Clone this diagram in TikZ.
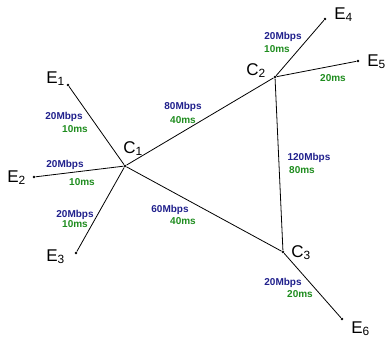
\documentclass[tikz,border=0pt]{standalone}
\usepackage{fontspec}
\setmainfont{Liberation Sans}
\definecolor{rate}{RGB}{32,32,140}
\definecolor{delay}{RGB}{30,140,30}
\tikzset{
	host/.style={font=\fontsize{17}{17}\selectfont, anchor=base west, inner sep=0pt},
	bw/.style={font=\fontsize{10}{10}\selectfont\bfseries, text=rate, anchor=base, inner sep=0pt},
	lat/.style={font=\fontsize{10}{10}\selectfont\bfseries, text=delay, anchor=base, inner sep=0pt},
	dot/.style={circle, fill, inner sep=0pt, minimum size=2.6pt}
}
\begin{document}
\begin{tikzpicture}[x=1pt,y=-1pt,line width=0.8pt]
\useasboundingbox (0,0) rectangle (385,343);

\begin{scope}
	\node[dot] (c1) at (125,166) {};
	\node[dot] (c2) at (275,77) {};
	\node[dot] (c3) at (283,252) {};
	%
	\node[dot] (e1) at (68,85) {};
	\node[dot] (e2) at (34,177) {};
	\node[dot] (e3) at (76,253) {};
	\node[dot] (e4) at (325,19) {};
	\node[dot] (e5) at (358,61) {};
	\node[dot] (e6) at (342,319) {};
\end{scope}

\draw
	(e1) -- (c1) -- (e2)
	(c1) -- (e3)
	(c1) -- (c2) -- (c3) -- (c1)
	(c2) -- (e4)
	(c2) -- (e5)
	(c3) -- (e6);

% router and host names
\node[host] (lc1) at (123,153) {C\textsubscript{1}};
\node[host] (lc2) at (246,75) {C\textsubscript{2}};
\node[host] (lc3) at (291,257) {C\textsubscript{3}};
\node[host] (le1) at (46,83) {E\textsubscript{1}};
\node[host] (le2) at (7,182) {E\textsubscript{2}};
\node[host] (le3) at (46,261) {E\textsubscript{3}};
\node[host] (le4) at (334,19) {E\textsubscript{4}};
\node[host] (le5) at (367,66) {E\textsubscript{5}};
\node[host] (le6) at (351,333) {E\textsubscript{6}};

% link capacities and delays
\node[bw] (b1) at (64,119) {20Mbps};
\node[lat] (d1) at (75,132) {10ms};
\node[bw] (b2) at (65,167) {20Mbps};
\node[lat] (d2) at (82,185) {10ms};
\node[bw] (b3) at (75,217) {20Mbps};
\node[lat] (d3) at (75,227) {10ms};
\node[bw] (b12) at (183,109) {80Mbps};
\node[lat] (d12) at (183,123) {40ms};
\node[bw] (b13) at (170,212) {60Mbps};
\node[lat] (d13) at (183,224) {40ms};
\node[bw] (b4) at (283,39) {20Mbps};
\node[lat] (d4) at (277,52) {10ms};
\node[lat] (d5) at (333,81) {20ms};
\node[bw] (b23) at (309,160) {120Mbps};
\node[lat] (d23) at (302,173) {80ms};
\node[bw] (b6) at (283,285) {20Mbps};
\node[lat] (d6) at (300,297) {20ms};

\end{tikzpicture}
\end{document}
